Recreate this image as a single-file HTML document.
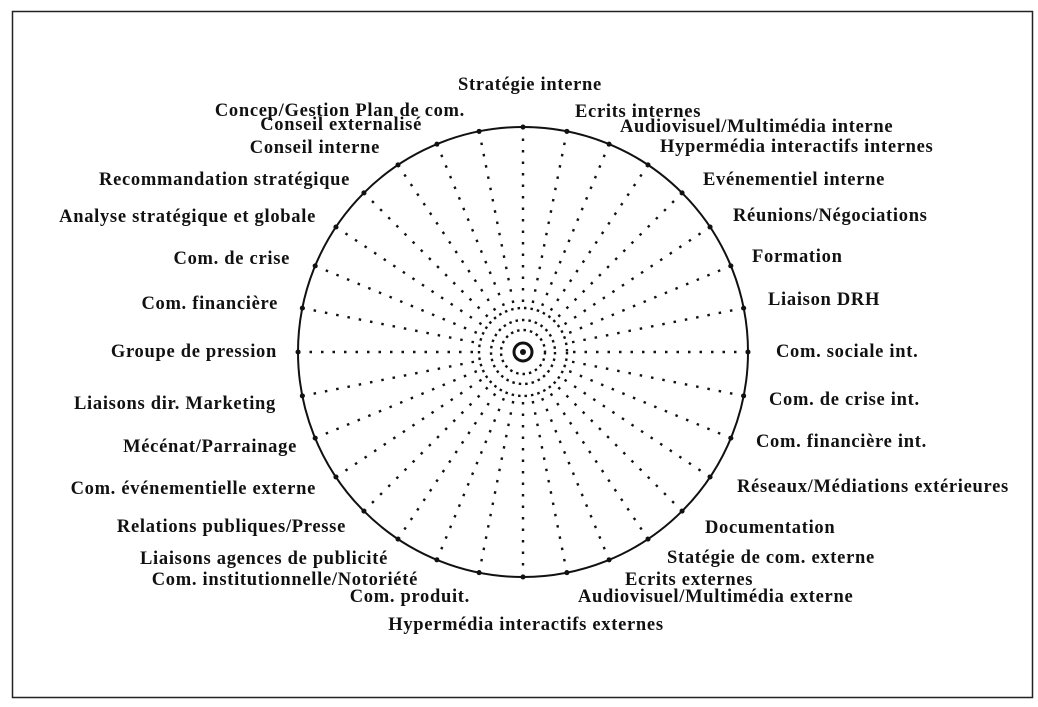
<!DOCTYPE html>
<html><head><meta charset="utf-8"><style>
html,body{margin:0;padding:0;background:#fff;}
svg{display:block;}
text{font-family:"Liberation Serif",serif;font-size:18.5px;font-weight:bold;fill:#111;letter-spacing:0.7px;}
</style></head><body>
<svg id="s" width="1038" height="707" viewBox="0 0 1038 707" xmlns="http://www.w3.org/2000/svg">
<rect x="12.5" y="11.5" width="1020" height="686" fill="none" stroke="#222" stroke-width="1.5"/>
<circle cx="523" cy="352" r="225" fill="none" stroke="#111" stroke-width="2"/>
<g id="rays" stroke="#111" stroke-width="2.4" stroke-dasharray="2.5 9" fill="none"></g>
<g fill="none" stroke="#111" stroke-width="2.4" stroke-dasharray="2.5 4">
<circle cx="523" cy="352" r="44"/>
<circle cx="523" cy="352" r="32"/>
<circle cx="523" cy="352" r="22"/>
</g>
<circle cx="523" cy="352" r="9" fill="none" stroke="#111" stroke-width="3"/>
<circle cx="523" cy="352" r="3" fill="#111"/>
<g text-anchor="middle">
<text x="530" y="90">Stratégie interne</text>
<text x="526" y="630">Hypermédia interactifs externes</text>
</g>
<g text-anchor="start">
<text x="575" y="117">Ecrits internes</text>
<text x="620" y="132">Audiovisuel/Multimédia interne</text>
<text x="660" y="152">Hypermédia interactifs internes</text>
<text x="703" y="185">Evénementiel interne</text>
<text x="733" y="221">Réunions/Négociations</text>
<text x="752" y="262">Formation</text>
<text x="768" y="305">Liaison DRH</text>
<text x="776" y="357">Com. sociale int.</text>
<text x="769" y="405">Com. de crise int.</text>
<text x="756" y="447">Com. financière int.</text>
<text x="737" y="492">Réseaux/Médiations extérieures</text>
<text x="705" y="533">Documentation</text>
<text x="667" y="563">Statégie de com. externe</text>
<text x="625" y="585">Ecrits externes</text>
<text x="578" y="602">Audiovisuel/Multimédia externe</text>
</g>
<g text-anchor="end">
<text x="470" y="602">Com. produit.</text>
<text x="418" y="585">Com. institutionnelle/Notoriété</text>
<text x="388" y="564">Liaisons agences de publicité</text>
<text x="346" y="532">Relations publiques/Presse</text>
<text x="316" y="494">Com. événementielle externe</text>
<text x="297" y="452">Mécénat/Parrainage</text>
<text x="276" y="409">Liaisons dir. Marketing</text>
<text x="277" y="357">Groupe de pression</text>
<text x="278" y="309">Com. financière</text>
<text x="290" y="264">Com. de crise</text>
<text x="316" y="222">Analyse stratégique et globale</text>
<text x="350" y="185">Recommandation stratégique</text>
<text x="380" y="153">Conseil interne</text>
<text x="422" y="130">Conseil externalisé</text>
<text x="465" y="116">Concep/Gestion Plan de com.</text>
</g>
</svg>
<script>
var g=document.getElementById('rays'),ns="http://www.w3.org/2000/svg";
for(var i=0;i<32;i++){var a=i*Math.PI*2/32;var sx=Math.sin(a),cy=-Math.cos(a);
var l=document.createElementNS(ns,'line');
l.setAttribute('x1',523+sx*50);l.setAttribute('y1',352+cy*50);
l.setAttribute('x2',523+sx*223);l.setAttribute('y2',352+cy*223);g.appendChild(l);
var d=document.createElementNS(ns,'circle');d.setAttribute('cx',523+sx*225);d.setAttribute('cy',352+cy*225);d.setAttribute('r',2.5);d.setAttribute('fill','#111');d.setAttribute('stroke','none');g.appendChild(d);}
</script>
</body></html>
